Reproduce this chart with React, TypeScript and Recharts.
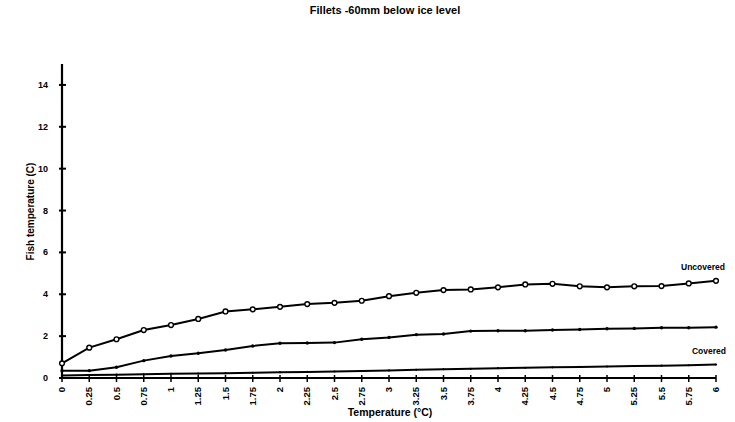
import React from 'react';
import { LineChart, Line, XAxis, YAxis, LabelList } from 'recharts';

const times = [
  '0', '0.25', '0.5', '0.75', '1', '1.25', '1.5', '1.75', '2', '2.25', '2.5', '2.75',
  '3', '3.25', '3.5', '3.75', '4', '4.25', '4.5', '4.75', '5', '5.25', '5.5', '5.75', '6',
];
const uncovered = [
  0.7, 1.45, 1.85, 2.29, 2.53, 2.82, 3.18, 3.28, 3.4, 3.53, 3.59, 3.69,
  3.91, 4.07, 4.2, 4.23, 4.33, 4.47, 4.5, 4.38, 4.33, 4.38, 4.39, 4.52, 4.64,
];
const middle = [
  0.35, 0.35, 0.51, 0.83, 1.05, 1.18, 1.34, 1.53, 1.66, 1.67, 1.69, 1.85,
  1.94, 2.07, 2.1, 2.24, 2.26, 2.26, 2.29, 2.32, 2.35, 2.37, 2.4, 2.4, 2.43,
];
const covered = [
  0.12, 0.14, 0.16, 0.18, 0.2, 0.21, 0.23, 0.25, 0.27, 0.29, 0.31, 0.33,
  0.36, 0.39, 0.42, 0.44, 0.47, 0.49, 0.51, 0.53, 0.55, 0.57, 0.59, 0.61, 0.64,
];
const yTicks = [0, 2, 4, 6, 8, 10, 12, 14];

const data = times.map((t, i) => ({
  t,
  uncovered: uncovered[i],
  middle: middle[i],
  covered: covered[i],
}));

const font = 'Liberation Sans, Arial, sans-serif';

const YTick = (props: any) => {
  const { x, y, payload } = props;
  return (
    <g>
      <line x1={x - 3} x2={x + 4} y1={y} y2={y} stroke="#000" strokeWidth={2} />
      <text x={x - 14} y={y + 3} textAnchor="end" fontSize={9} fontWeight={700} fontFamily={font} fill="#000">
        {payload.value}
      </text>
    </g>
  );
};

const XTick = (props: any) => {
  const { x, y, payload } = props;
  const ty = y + 9;
  return (
    <g>
      <line x1={x} x2={x} y1={y - 3} y2={y + 4} stroke="#000" strokeWidth={1.5} />
      <text
        x={x + 3}
        y={ty}
        transform={`rotate(-90 ${x + 3} ${ty})`}
        textAnchor="end"
        fontSize={9.5}
        fontWeight={700}
        fontFamily={font}
        fill="#000"
      >
        {payload.value}
      </text>
    </g>
  );
};

const endLabel = (text: string, dx: number, dy: number) => (props: any) => {
  const { x, y, index } = props;
  if (index !== times.length - 1) return null;
  return (
    <text x={x + dx} y={y + dy} textAnchor="middle" fontSize={8.5} fontWeight={700} fontFamily={font} fill="#000">
      {text}
    </text>
  );
};

const smallDot = (r: number) => (props: any) => {
  const { cx, cy, index } = props;
  return <circle key={index} cx={cx} cy={cy} r={r} fill="#000" stroke="none" />;
};

export default function App() {
  return (
    <div style={{ position: 'absolute', left: 0, top: 0, width: 735, height: 422, background: '#fff' }}>
      <div
        style={{
          position: 'absolute', left: 0, top: 4, width: 770, textAlign: 'center',
          fontFamily: font, fontSize: 11, fontWeight: 700,
        }}
      >
        Fillets -60mm below ice level
      </div>
      <div
        style={{
          position: 'absolute', left: 30, top: 213, width: 160, marginLeft: -80, marginTop: -7,
          textAlign: 'center', transform: 'rotate(-90deg)', fontFamily: font, fontSize: 10, fontWeight: 700,
        }}
      >
        Fish temperature (C)
      </div>
      <div
        style={{
          position: 'absolute', left: 0, top: 406, width: 780, textAlign: 'center',
          fontFamily: font, fontSize: 10.5, fontWeight: 700,
        }}
      >
        Temperature (°C)
      </div>
      <LineChart width={735} height={422} data={data} margin={{ top: 64, right: 19, left: 22, bottom: 10 }}>
        <XAxis
          dataKey="t"
          interval={0}
          height={34}
          tickSize={0}
          tickMargin={0}
          tick={<XTick />}
          axisLine={{ stroke: '#000', strokeWidth: 2.2 }}
        />
        <YAxis
          domain={[0, 15]}
          ticks={yTicks}
          width={40}
          tickSize={0}
          tickMargin={0}
          tick={<YTick />}
          axisLine={{ stroke: '#000', strokeWidth: 2.2 }}
        />
        <Line
          dataKey="covered"
          stroke="#000"
          strokeWidth={2}
          dot={smallDot(1.1)}
          isAnimationActive={false}
        >
          <LabelList dataKey="covered" content={endLabel('Covered', -7, -11)} />
        </Line>
        <Line
          dataKey="middle"
          stroke="#000"
          strokeWidth={2}
          dot={smallDot(1.7)}
          isAnimationActive={false}
        />
        <Line
          dataKey="uncovered"
          stroke="#000"
          strokeWidth={2}
          dot={{ r: 2.4, fill: '#fff', stroke: '#000', strokeWidth: 1.4 }}
          isAnimationActive={false}
        >
          <LabelList dataKey="uncovered" content={endLabel('Uncovered', -13, -11)} />
        </Line>
      </LineChart>
    </div>
  );
}
